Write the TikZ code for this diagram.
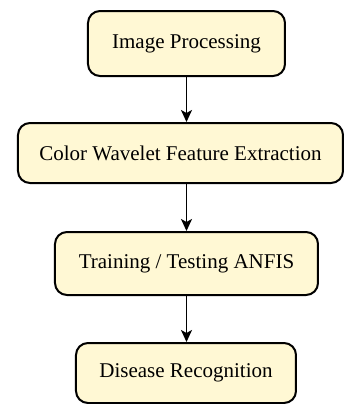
\documentclass[tikz,border=0pt]{standalone}
\usepackage{fontspec}
\setmainfont{Liberation Serif}
\usetikzlibrary{arrows.meta}
\definecolor{boxfill}{RGB}{255,248,212}
\tikzset{
  stage/.style={draw=black, line width=1pt, fill=boxfill, rounded corners=6pt,
    align=center, inner sep=0pt, font=\fontsize{10.5}{12}\selectfont},
  flow/.style={-{Stealth[length=6pt,width=5.5pt,inset=1.5pt]}, line width=0.9pt}
}
\begin{document}
\begin{tikzpicture}[x=0.5pt,y=-0.5pt]
\useasboundingbox (0,0) rectangle (344,404);
\node[stage, minimum width=98.5pt, minimum height=32.5pt] (a) at (186.5,43.5) {Image Processing};
\node[stage, minimum width=162.5pt, minimum height=30pt] (b) at (180.5,153) {Color Wavelet Feature Extraction};
\node[stage, minimum width=131.5pt, minimum height=31.5pt] (c) at (186.5,263.5) {Training / Testing ANFIS};
\node[stage, minimum width=110pt, minimum height=30pt] (d) at (186,373) {Disease Recognition};
\draw[flow] (a.south -| 186.5,0) -- (b.north -| 186.5,0);
\draw[flow] (b.south -| 186.5,0) -- (c.north);
\draw[flow] (c.south) -- (d.north -| 186.5,0);
\end{tikzpicture}
\end{document}
